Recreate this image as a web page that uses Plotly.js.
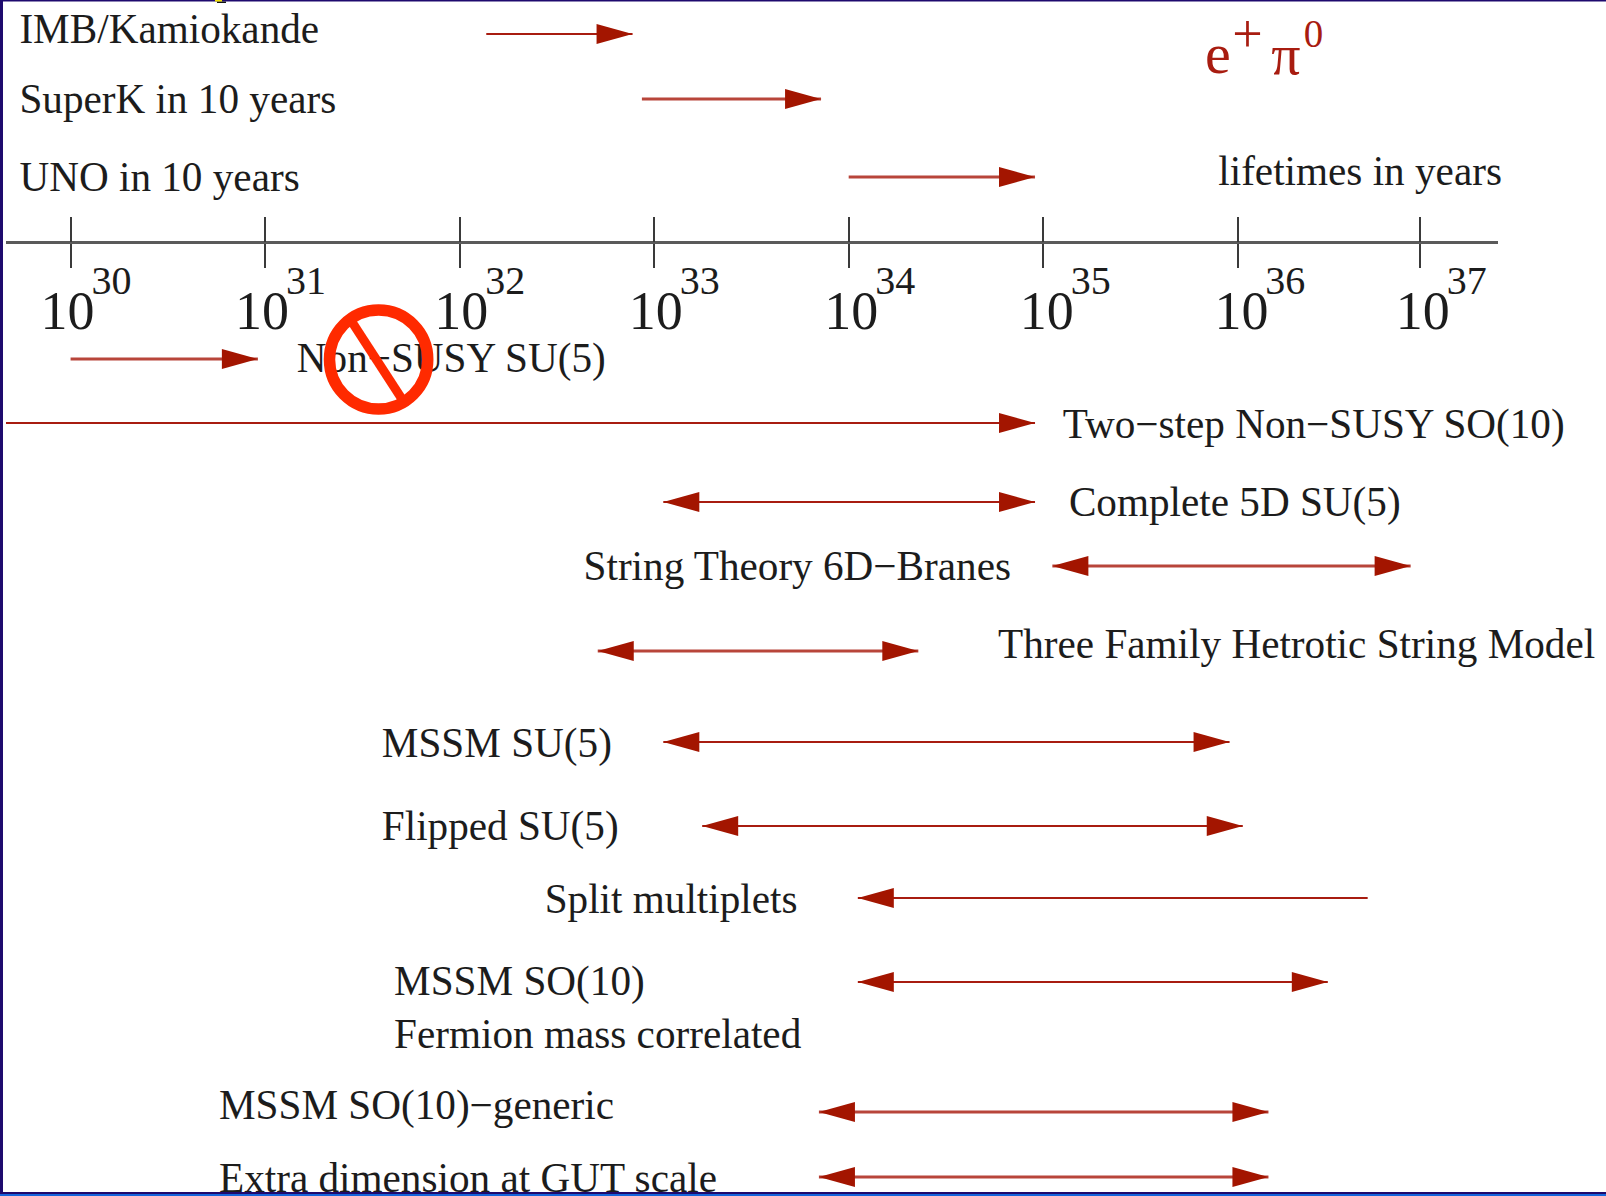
<!DOCTYPE html>
<html><head><meta charset="utf-8">
<script src="https://cdn.plot.ly/plotly-3.0.1.min.js"></script>
<style>html,body{margin:0;padding:0;background:#fff}#c{width:1606px;height:1196px}</style>
</head><body><div id="c"></div>
<script>
// Tick marks on the lifetime axis (log10 years); the 10^37 mark sits short of its even spacing in the source
const tickPositions = [30, 31, 32, 33, 34, 35, 36, 36.937];
const tickBases = ['10','10','10','10','10','10','10','10'];
const tickExponents = ['30','31','32','33','34','35','36','37'];

// Experiments and models: log10 lifetime start / end
const arrowNames = ['IMB/Kamiokande','SuperK in 10 years','UNO in 10 years','Non-SUSY SU(5)','Two-step Non-SUSY SO(10)','Complete 5D SU(5)','String Theory 6D-Branes','Three Family Hetrotic String Model','MSSM SU(5)','Flipped SU(5)','Split multiplets','MSSM SO(10)','MSSM SO(10)-generic','Extra dimension at GUT scale'];
const arrowFrom = [32.137, 32.937, 34.0, 30.0, 29.668, 33.047, 35.047, 32.71, 33.047, 33.247, 34.047, 34.047, 33.847, 33.847];
const arrowTo = [32.889, 33.858, 34.958, 30.963, 34.958, 34.958, 36.889, 34.358, 35.958, 36.026, 36.668, 36.463, 36.158, 36.158];
const headAtFrom = [0,0,0,0,0,1,1,1,1,1,1,1,1,1];
const headAtTo = [1,1,1,1,1,1,1,1,1,1,0,1,1,1];
const softLine = [0,1,1,1,0,0,1,1,0,0,0,0,1,1];
const arrowRow = [34, 99, 177, 359, 423, 502, 566, 651, 742, 826, 898, 982, 1112, 1177];

// Text labels
const labelTexts = ['IMB/Kamiokande','SuperK in 10 years','UNO in 10 years','lifetimes in years','Non\u2212SUSY SU(5)','Two\u2212step Non\u2212SUSY SO(10)','Complete 5D SU(5)','String Theory 6D\u2212Branes','Three Family Hetrotic String Model','MSSM SU(5)','Flipped SU(5)','Split multiplets','MSSM SO(10)','Fermion mass correlated','MSSM SO(10)\u2212generic','Extra dimension at GUT scale'];
const labelX = [29.737, 29.737, 29.737, 35.9, 31.163, 35.1, 35.132, 32.637, 34.768, 31.6, 31.6, 32.437, 31.663, 31.663, 30.763, 30.763];
const labelRow = [33, 103, 181, 175, 362, 428, 506, 570, 648, 747, 830, 903, 985, 1038, 1109, 1182];

const RED = '#a81c10', SOFT = '#b8453a', HEAD = '#a31500', INK = '#1c1c1c', SERIF = '"Liberation Serif", serif';
const PX = 194.5;                // pixels per decade
const headLen = 36 / PX, headHalf = 10;

const traces = [];
arrowNames.forEach((n, i) => {
  traces.push({x:[arrowFrom[i], arrowTo[i]], y:[arrowRow[i], arrowRow[i]], mode:'lines', name:n,
    line:{color:softLine[i] ? SOFT : RED, width:softLine[i] ? 2.8 : 2.2}, hoverinfo:'name', showlegend:false});
  const head = (tip, dir) => traces.push({x:[tip, tip - dir*headLen, tip - dir*headLen, tip],
    y:[arrowRow[i], arrowRow[i]-headHalf, arrowRow[i]+headHalf, arrowRow[i]],
    mode:'lines', fill:'toself', fillcolor:HEAD, line:{color:HEAD, width:0}, hoverinfo:'skip', showlegend:false});
  if (headAtTo[i]) head(arrowTo[i], 1);
  if (headAtFrom[i]) head(arrowFrom[i], -1);
});

// model labels
traces.push({x:labelX, y:labelRow, text:labelTexts, mode:'text', textposition:'middle right', cliponaxis:false,
  textfont:{family:SERIF, size:41.2, color:INK}, hoverinfo:'skip', showlegend:false});
// tick label bases and exponents
const baseShift = [-.155,-.155,-.13,-.13,-.125,-.12,-.12,-.125];
traces.push({x:tickPositions.map((t,i)=>t+baseShift[i]), y:tickPositions.map(()=>342), text:tickBases, mode:'text', textposition:'top right', cliponaxis:false,
  textfont:{family:SERIF, size:54, color:INK}, hoverinfo:'skip', showlegend:false});
traces.push({x:tickPositions.map((t,i)=>t+baseShift[i]+.262), y:tickPositions.map(()=>304), text:tickExponents, mode:'text', textposition:'top right', cliponaxis:false,
  textfont:{family:SERIF, size:40, color:INK}, hoverinfo:'skip', showlegend:false});
// decay channel e+ pi0
traces.push({x:[35.832, 35.972, 36.172, 36.34], y:[87, 65.5, 88, 57], text:['e','+','\u03c0','0'], mode:'text', textposition:'top right', cliponaxis:false,
  textfont:{family:SERIF, size:[58,54,58,39], color:RED}, hoverinfo:'skip', showlegend:false});

const frac = px => (px - 6) / 1492;
const fy = py => 1 - py / 1196;
const layout = {
  width:1606, height:1196, margin:{l:6, r:108, t:0, b:0, pad:0},
  paper_bgcolor:'#fff', plot_bgcolor:'#fff', showlegend:false, font:{family:SERIF},
  xaxis:{range:[29.668, 37.338], anchor:'free', position:1-242/1196, side:'bottom',
    tickmode:'array', tickvals:tickPositions, ticktext:tickPositions.map(()=>''), ticks:'outside', ticklen:24, tickwidth:1.5, tickcolor:'#3a3a3a',
    showline:true, linecolor:'#5a5a5a', linewidth:3, showgrid:false, zeroline:false, fixedrange:true},
  xaxis2:{range:[29.668, 37.338], overlaying:'x', anchor:'free', position:1-242/1196, side:'top',
    tickmode:'array', tickvals:tickPositions, ticktext:tickPositions.map(()=>''), ticks:'outside', ticklen:25, tickwidth:1.5, tickcolor:'#3a3a3a',
    showline:false, showgrid:false, zeroline:false, fixedrange:true},
  yaxis:{range:[1196, 0], visible:false, showgrid:false, zeroline:false, fixedrange:true},
  shapes:[
    // prohibition sign over the Non-SUSY SU(5) label
    {type:'circle', xref:'x', yref:'y', x0:31.331, x1:31.836, y0:310, y1:409, line:{color:'#ff2a00', width:11.5}, fillcolor:'rgba(0,0,0,0)', layer:'above'},
    {type:'line', xref:'x', yref:'y', x0:31.44, x1:31.71, y0:320, y1:401, line:{color:'#ff2a00', width:9}, layer:'above'},
    // slide frame
    {type:'rect', xref:'paper', yref:'paper', x0:frac(0), x1:frac(3), y0:0, y1:1, fillcolor:'#1e0a6e', line:{width:0}, layer:'above'},
    {type:'rect', xref:'paper', yref:'paper', x0:frac(0), x1:frac(1606), y0:fy(1.5), y1:1, fillcolor:'#1e0a6e', line:{width:0}, layer:'above'},
    {type:'rect', xref:'paper', yref:'paper', x0:frac(0), x1:frac(1606), y0:fy(1194), y1:fy(1192), fillcolor:'#1e0a6e', line:{width:0}, layer:'above'},
    {type:'rect', xref:'paper', yref:'paper', x0:frac(0), x1:frac(1606), y0:0, y1:fy(1194), fillcolor:'#1464dc', line:{width:0}, layer:'above'},
    {type:'rect', xref:'paper', yref:'paper', x0:frac(217), x1:frac(226), y0:fy(3), y1:fy(1.5), fillcolor:'#111111', line:{width:0}, layer:'above'},
    {type:'rect', xref:'paper', yref:'paper', x0:frac(215), x1:frac(222), y0:fy(1.5), y1:1, fillcolor:'#f5e400', line:{width:0}, layer:'above'}
  ]
};
// an empty trace keeps the upper tick marks' axis alive
traces.push({x:[30], y:[243], xaxis:'x2', mode:'markers', marker:{opacity:0}, hoverinfo:'skip', showlegend:false});
Plotly.newPlot('c', traces, layout, {displayModeBar:false});
</script></body></html>
